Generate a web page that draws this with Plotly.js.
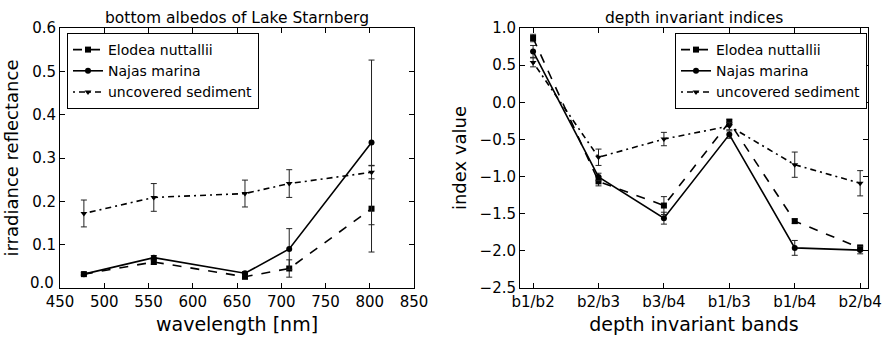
<!DOCTYPE html>
<html><head><meta charset="utf-8">
<script src="https://cdn.plot.ly/plotly-3.0.1.min.js"></script>
<style>body{margin:0;background:#fff}#c{width:886px;height:340px}</style>
</head><body><div id="c"></div>
<script>
// Left panel: bottom albedos
const wavelengths = [477, 556, 659, 709, 802];
const elodeaAlb = [0.032, 0.060, 0.026, 0.045, 0.183];
const elodeaAlbErr = [0.003, 0.005, 0.005, 0.02, 0.1];
const najasAlb = [0.032, 0.070, 0.034, 0.090, 0.336];
const najasAlbErr = [0.003, 0.005, 0.004, 0.047, 0.19];
const sedAlb = [0.172, 0.209, 0.218, 0.241, 0.267];
const sedAlbErr = [0.031, 0.032, 0.031, 0.032, 0.015];
const albTickVals = [0.1, 0.2, 0.3, 0.4, 0.5, 0.6];
const albTickText = ['0.1', '0.2', '0.3', '0.4', '0.5', '0.6'];
const albZeroLabel = '0.0';

// Right panel: depth invariant indices
const bands = ['b1/b2', 'b2/b3', 'b3/b4', 'b1/b3', 'b1/b4', 'b2/b4'];
const elodeaIdx = [0.865, -1.065, -1.39, -0.265, -1.60, -1.96];
const elodeaIdxErr = [0.05, 0.06, 0.12, 0.04, 0.03, 0.04];
const najasIdx = [0.685, -1.005, -1.56, -0.435, -1.96, -1.99];
const najasIdxErr = [0.08, 0.05, 0.08, 0.05, 0.10, 0.05];
const sedIdx = [0.537, -0.74, -0.495, -0.32, -0.84, -1.09];
const sedIdxErr = [0.06, 0.11, 0.09, 0.05, 0.17, 0.17];

const names = ['Elodea nuttallii', 'Najas marina', 'uncovered sediment'];
const FONT = 'DejaVu Sans, sans-serif';

function tr(x, y, err, i, xa, ya, leg) {
  const styles = [
    {dash: 'dash', sym: 'square'},
    {dash: 'solid', sym: 'circle'},
    {dash: '2px,4px,6px,4px', sym: 'triangle-down'}
  ];
  return {
    x: x, y: y, name: names[i], type: 'scatter', mode: 'lines+markers',
    xaxis: xa, yaxis: ya, legend: leg,
    line: {color: '#000', width: 1.6, dash: styles[i].dash},
    marker: {symbol: styles[i].sym, size: 6, color: '#000'},
    error_y: {type: 'data', array: err, visible: true, color: '#222', thickness: 1, width: 3}
  };
}

const data = [
  tr(wavelengths, elodeaAlb, elodeaAlbErr, 0, 'x', 'y', 'legend'),
  tr(wavelengths, najasAlb, najasAlbErr, 1, 'x', 'y', 'legend'),
  tr(wavelengths, sedAlb, sedAlbErr, 2, 'x', 'y', 'legend'),
  tr(bands, elodeaIdx, elodeaIdxErr, 0, 'x2', 'y2', 'legend2'),
  tr(bands, najasIdx, najasIdxErr, 1, 'x2', 'y2', 'legend2'),
  tr(bands, sedIdx, sedIdxErr, 2, 'x2', 'y2', 'legend2')
];

const ax = {
  showline: true, linecolor: '#000', linewidth: 1, mirror: 'ticks',
  ticks: 'inside', ticklen: 5, tickcolor: '#000', showgrid: false, zeroline: false,
  tickfont: {family: FONT, size: 15, color: '#000'}
};
const yDom = [1 - 288/340, 1 - 28/340];
const legStyle = {
  bgcolor: '#fff', bordercolor: '#000', borderwidth: 1,
  font: {family: FONT, size: 14, color: '#000'},
  xanchor: 'left', yanchor: 'top', tracegroupgap: 0, itemwidth: 30
};

const layout = {
  width: 886, height: 340, margin: {l: 0, r: 0, t: 0, b: 0},
  paper_bgcolor: '#fff', plot_bgcolor: '#fff', showlegend: true,
  font: {family: FONT, color: '#000'},
  xaxis: Object.assign({}, ax, {domain: [60/886, 414/886], range: [450, 850], dtick: 50, tick0: 450,
    anchor: 'y', title: {text: 'wavelength [nm]', font: {family: FONT, size: 19}, standoff: 7}}),
  yaxis: Object.assign({}, ax, {domain: yDom, range: [0, 0.6], tickmode: 'array',
    tickvals: albTickVals, ticktext: albTickText,
    anchor: 'x', title: {text: 'irradiance reflectance', font: {family: FONT, size: 18}, standoff: 8}}),
  xaxis2: Object.assign({}, ax, {domain: [520/886, 868/886], type: 'category', range: [-0.2, 5.12],
    anchor: 'y2', title: {text: 'depth invariant bands', font: {family: FONT, size: 19}, standoff: 7}}),
  yaxis2: Object.assign({}, ax, {domain: yDom, range: [-2.5, 1.0], dtick: 0.5, tickformat: '.1f',
    anchor: 'x2', title: {text: 'index value', font: {family: FONT, size: 18}, standoff: 8}}),
  legend: Object.assign({}, legStyle, {x: 67/886, y: 1 - 33/340}),
  legend2: Object.assign({}, legStyle, {x: 867/886, xanchor: 'right', y: 1 - 33/340}),
  annotations: [
    {text: 'bottom albedos of Lake Starnberg', xref: 'paper', yref: 'paper', x: 237/886, y: 1 - 18/340,
     showarrow: false, xanchor: 'center', yanchor: 'middle', font: {family: FONT, size: 15.5, color: '#000'}},
    {text: 'depth invariant indices', xref: 'paper', yref: 'paper', x: 694/886, y: 1 - 18/340,
     showarrow: false, xanchor: 'center', yanchor: 'middle', font: {family: FONT, size: 15.5, color: '#000'}},
    {text: albZeroLabel, xref: 'paper', yref: 'y', x: 56/886, y: 0, yshift: 5,
     showarrow: false, xanchor: 'right', yanchor: 'middle', font: {family: FONT, size: 15, color: '#000'}}
  ]
};

Plotly.newPlot('c', data, layout, {staticPlot: true});
</script></body></html>
